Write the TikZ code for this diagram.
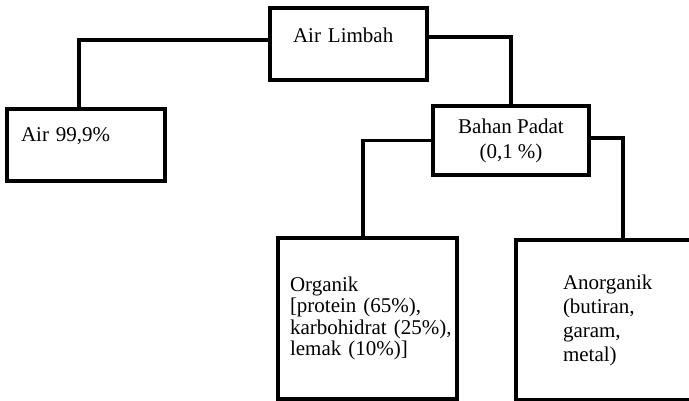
\documentclass[tikz,border=0pt]{standalone}
\usepackage{fontspec}
\setmainfont{Liberation Serif}
\begin{document}
\begin{tikzpicture}[x=1pt, y=-1pt,
    box/.style={draw, line width=3.5pt, inner sep=0pt, align=left,
                font=\fontsize{21}{21.5}\selectfont},
    link/.style={line width=3.5pt}]
      \useasboundingbox (0,0) rectangle (689,401);
      \node (limbah) [box, minimum width=157, minimum height=72, inner xsep=23pt,
                      text width=111pt, text height=14pt, text depth=16pt] at (348.5,44) {Air Limbah};
      \node (air) [box, minimum width=158, minimum height=72, inner xsep=14pt,
                   text width=130pt, text height=14pt, text depth=20pt] at (86,145) {Air 99,9\%};
      \node (padat) [box, align=center, minimum width=156, minimum height=69,
                     font=\fontsize{21}{25}\selectfont] at (511,140.5) {Bahan Padat\\(0,1 \%)};
      \node (organik) [box, minimum width=179, minimum height=161, inner xsep=12pt,
                       text width=155pt] at (367.5,318.5)
            {Organik\\{[}protein~(65\%),\\karbohidrat~(25\%),\\lemak~(10\%)]};
      \node (anorganik) [box, minimum width=214, minimum height=160, inner xsep=47pt,
                         text width=120pt, font=\fontsize{21}{24}\selectfont] at (623,320)
            {Anorganik\\(butiran,\\garam,\\metal)};
      % garis penghubung
      \draw[link] ([yshift=4pt]limbah.west) -| ([xshift=-7pt]air.north);
      \draw[link] ([yshift=7pt]limbah.east) -| (padat.north);
      \draw[link] (padat.west) -| ([xshift=-4.5pt]organik.north);
      \draw[link] ([yshift=2.5pt]padat.east) -| (anorganik.north);
\end{tikzpicture}
\end{document}
